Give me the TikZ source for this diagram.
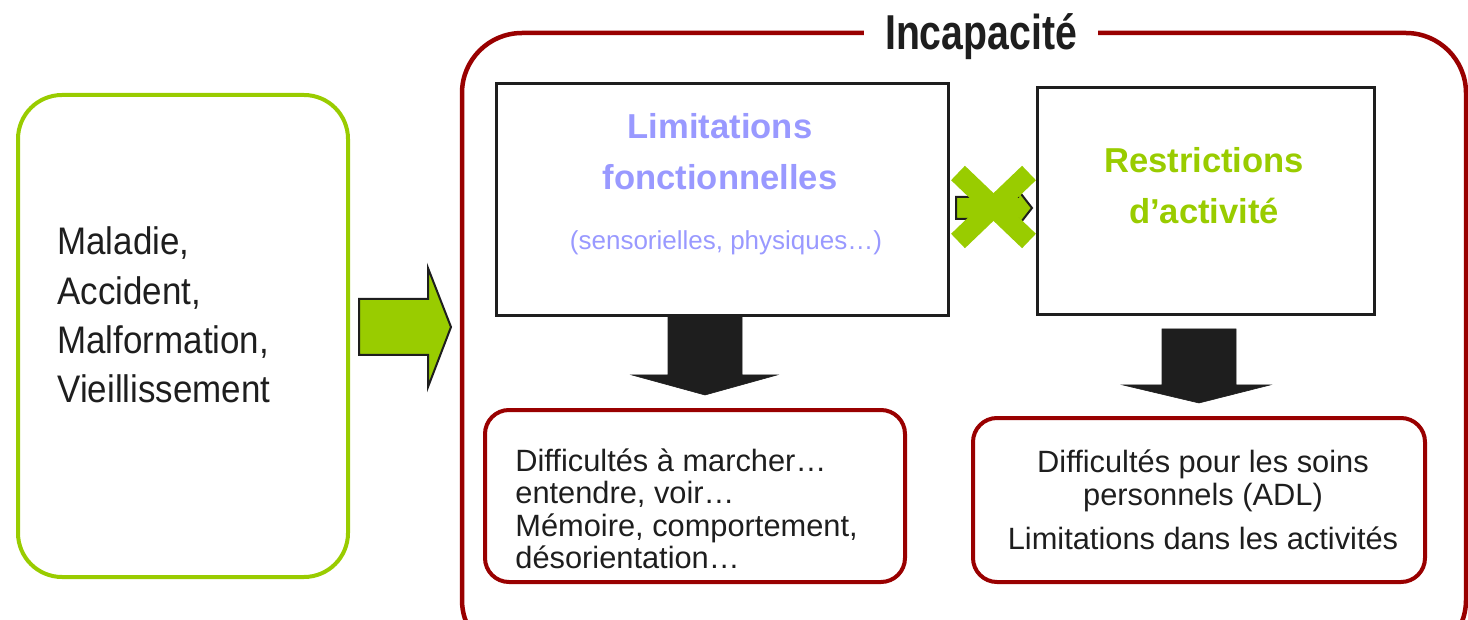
\documentclass[tikz,border=0pt]{standalone}
\usepackage{fontspec}
\setmainfont{Liberation Sans}
\newfontfamily\titlefont[FakeStretch=0.8]{Liberation Sans}
\newfontfamily\causefont[FakeStretch=0.91]{Liberation Sans}
\usetikzlibrary{positioning}
\definecolor{leafgreen}{HTML}{99CC00}
\definecolor{wine}{HTML}{990000}
\definecolor{lilac}{HTML}{9999FF}
\definecolor{ink}{HTML}{1E1E1E}
\tikzset{
  causebox/.style={draw=leafgreen, line width=2pt, rounded corners=22pt},
  groupbox/.style={draw=wine, line width=2.25pt, rounded corners=30pt},
  effectbox/.style={draw=wine, line width=2pt, rounded corners=12pt},
  plainbox/.style={draw=ink, line width=1.5pt},
  greenarrow/.style={fill=leafgreen, draw=ink, line width=1pt, line join=miter},
  blockarrow/.style={fill=ink, draw=ink, line width=0.3pt},
  bigtext/.style={font=\fontsize{19.2}{24.7}\causefont, text=ink, inner sep=0pt},
  smalltext/.style={font=\fontsize{15.4}{16.2}\selectfont, text=ink, inner sep=0pt},
  headtext/.style={font=\fontsize{17.3}{25.5}\selectfont\bfseries, inner sep=0pt, align=center}
}
\begin{document}
\begin{tikzpicture}[x=0.5pt,y=-0.5pt]
\useasboundingbox (0,0) rectangle (1468,620);

% cause
\draw[causebox] (18,95) rectangle (348,577);
\node[bigtext, anchor=west, align=left] (causes) at (57,315)
  {Maladie,\\Accident,\\Malformation,\\Vieillissement};

\draw[greenarrow] (359,299) -- (428,299) -- (428,268) -- (451,327)
  -- (428,387) -- (428,355) -- (359,355) -- cycle;

% incapacite
\draw[groupbox] (462,33) rectangle (1466,660);
\node[fill=white, inner xsep=10.5pt, inner ysep=2pt, anchor=base,
  font=\fontsize{24.5}{26}\titlefont\bfseries, text=ink] (title) at (981,50) {Incapacité};

\draw[plainbox] (496,84) rectangle (948,316);
\node[headtext, text=lilac] (limits) at (720,152) {Limitations\\fonctionnelles};
\node[font=\fontsize{13}{15}\selectfont, text=lilac, inner sep=0pt] (kinds) at (726,243)
  {(sensorielles, physiques…)};

\draw[plainbox] (1037,88) rectangle (1374,315);
\node[headtext, text=leafgreen] (restrict) at (1204,186) {Restrictions\\d’activité};

\draw[greenarrow] (956,197) -- (1018,197) -- (1018,190) -- (1032,208)
  -- (1018,226) -- (1018,219) -- (956,219) -- cycle;
\draw[leafgreen, line width=10pt] (958,173) -- (1029,241);
\draw[leafgreen, line width=10pt] (958,241) -- (1029,173);

\draw[blockarrow] (668,316) -- (742,316) -- (742,375) -- (777,375) -- (705,395)
  -- (632,375) -- (668,375) -- cycle;
\draw[blockarrow] (1162,329) -- (1236,329) -- (1236,385) -- (1270,385) -- (1199,403)
  -- (1123,385) -- (1162,385) -- cycle;

% consequences
\draw[effectbox] (485,410) rectangle (905,582);
\node[smalltext, anchor=west, align=left] (hard) at (515,509)
  {Difficultés à marcher…\\entendre, voir…\\Mémoire, comportement,\\désorientation…};

\draw[effectbox] (973,418) rectangle (1425,582);
\node[smalltext, align=center] (care) at (1203,500)
  {Difficultés pour les soins\\personnels (ADL)\\[6pt]Limitations dans les activités};
\end{tikzpicture}
\end{document}
